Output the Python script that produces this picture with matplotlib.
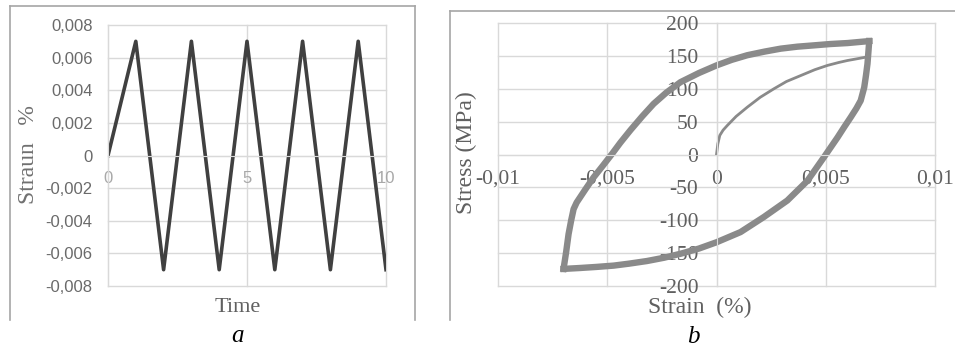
import matplotlib
matplotlib.use("Agg")
import matplotlib.pyplot as plt
from matplotlib.lines import Line2D

# panel a: strain vs time
time = [0, 1, 2, 3, 4, 5, 6, 7, 8, 9, 10]
strain_t = [0, 0.007, -0.007, 0.007, -0.007, 0.007, -0.007, 0.007, -0.007, 0.007, -0.007]
a_yticks = [-0.008, -0.006, -0.004, -0.002, 0, 0.002, 0.004, 0.006, 0.008]
a_ylabels = ['-0,008', '-0,006', '-0,004', '-0,002', '0', '0,002', '0,004', '0,006', '0,008']
a_xticks = [0, 5, 10]
a_xlabels = ['0', '5', '10']

# panel b: hysteresis loop
init_strain = [0, 0.00003, 0.00006, 0.00015, 0.0003, 0.00049, 0.0009, 0.00141, 0.002, 0.00263,
               0.0032, 0.00385, 0.0045, 0.00508, 0.0056, 0.006, 0.0065, 0.00699]
init_stress = [0, 8, 16, 29, 37, 44, 58, 72, 87, 100, 111, 120, 129, 135.5, 140, 143, 146, 149]

up_strain = [-0.0070, -0.00688, -0.00677, -0.00665, -0.00654, -0.0064, -0.00624, -0.006,
             -0.00563, -0.0052, -0.00478, -0.0044, -0.00394, -0.0034, -0.00288, -0.0023,
             -0.00165, -0.0008, 0, 0.0007, 0.00141, 0.0022, 0.00294, 0.0037, 0.00446, 0.0052,
             0.006, 0.00699]
up_stress = [-174, -148, -121, -100, -83, -73, -65, -53, -35, -17, 1, 18, 37, 58, 77, 94,
             110, 124, 135.5, 144, 151, 156.5, 161, 164, 166, 168, 169.5, 172.5]

down_strain = [0.00699, 0.00695, 0.00691, 0.00684, 0.00676, 0.0066, 0.0064, 0.00615, 0.00585,
               0.00554, 0.00492, 0.00416, 0.00324, 0.00217, 0.0011, 0, -0.0008, -0.00165,
               -0.0024, -0.00318, -0.004, -0.00471, -0.0055, -0.00624, -0.0070]
down_stress = [172.5, 155, 138, 120, 102, 82, 70, 57, 42, 26, -4, -40, -70, -95, -118, -133.5,
               -143, -151, -157, -162, -166, -169, -171, -172.6, -174]

b_xticks = [-0.01, -0.005, 0, 0.005, 0.01]
b_xlabels = ['-0,01', '-0,005', '0', '0,005', '0,01']
b_yticks = [-200, -150, -100, -50, 0, 50, 100, 150, 200]
b_ylabels = ['-200', '-150', '-100', '-50', '0', '50', '100', '150', '200']

W, H = 955, 349
grid_c = '#d9d9d9'
serif = 'Liberation Serif'

fig = plt.figure(figsize=(W / 100, H / 100), dpi=100)

def px(x, y):
    return x / W, 1 - y / H

# panel frames
box_c = '#a6a6a6'
for xs, ys in [([10, 415], [6, 6]), ([10, 10], [6, 320]), ([415, 415], [6, 320]),
               ([450, 955], [11, 11]), ([450, 450], [11, 320])]:
    fig.add_artist(Line2D([x / W for x in xs], [1 - y / H for y in ys], color=box_c, lw=1.2))

# ---- panel a
ax1 = fig.add_axes([108 / W, 1 - 286 / H, (386 - 108) / W, (286 - 25) / H])
ax1.spines['bottom'].set_position(('data', 0))
ax1.plot(time, strain_t, color='#404040', lw=2.6)
ax1.set_xlim(0, 10)
ax1.set_ylim(-0.008, 0.008)
ax1.set_yticks(a_yticks)
ax1.set_yticklabels(a_ylabels, family='Liberation Sans', fontsize=12, color='#6a6a6a')
ax1.set_xticks(a_xticks)
ax1.set_xticklabels(a_xlabels, family='Liberation Sans', fontsize=12, color='#a8a8a8')
for s in ['top', 'right']:
    ax1.spines[s].set_visible(False)
for s in ['left', 'bottom']:
    ax1.spines[s].set_color(grid_c)
ax1.tick_params(axis='both', length=0)
ax1.tick_params(axis='y', pad=11)
ax1.tick_params(axis='x', pad=11)
ax1.grid(True, color=grid_c, lw=1)
ax1.set_axisbelow(True)
for gl in ax1.get_xgridlines() + ax1.get_ygridlines():
    gl.set_clip_on(False)
fig.text(*px(28, 155), 'Straun   %', family=serif, fontsize=17, color='#707070',
         rotation=90, ha='center', va='center')
fig.text(*px(238, 307), 'Time', family=serif, fontsize=16, color='#606060',
         ha='center', va='center')
fig.text(*px(237, 336), 'a', family=serif, style='italic', fontsize=18, color='black',
         ha='center', va='center')

# ---- panel b
ax2 = fig.add_axes([498 / W, 1 - 286 / H, (935 - 498) / W, (286 - 23) / H])
ax2.spines['bottom'].set_position(('data', 0))
ax2.spines['left'].set_position(('data', 0))
ax2.plot(up_strain, up_stress, color='#8a8a8a', lw=4.6, solid_joinstyle='round')
ax2.plot(down_strain, down_stress, color='#8a8a8a', lw=4.6, solid_joinstyle='round')
ax2.plot(init_strain, init_stress, color='#8a8a8a', lw=2)
ax2.set_xlim(-0.01, 0.01)
ax2.set_ylim(-200, 200)
ax2.set_xticks(b_xticks)
ax2.set_xticklabels(b_xlabels, family=serif, fontsize=15.5, color='#606060')
ax2.set_yticks(b_yticks)
ax2.set_yticklabels(b_ylabels, family=serif, fontsize=15.5, color='#606060')
for s in ['top', 'right']:
    ax2.spines[s].set_visible(False)
for s in ['left', 'bottom']:
    ax2.spines[s].set_color(grid_c)
ax2.tick_params(axis='both', length=0)
ax2.tick_params(axis='y', pad=13)
ax2.tick_params(axis='x', pad=11)
ax2.grid(True, color=grid_c, lw=1)
ax2.set_axisbelow(True)
for gl in ax2.get_xgridlines() + ax2.get_ygridlines():
    gl.set_clip_on(False)
fig.text(*px(466, 153), 'Stress (MPa)', family=serif, fontsize=17, color='#606060',
         rotation=90, ha='center', va='center')
fig.text(*px(700, 307), 'Strain  (%)', family=serif, fontsize=17, color='#606060',
         ha='center', va='center')
fig.text(*px(693, 337), 'b', family=serif, style='italic', fontsize=18, color='black',
         ha='center', va='center')

fig.savefig('out.png', dpi=100)
